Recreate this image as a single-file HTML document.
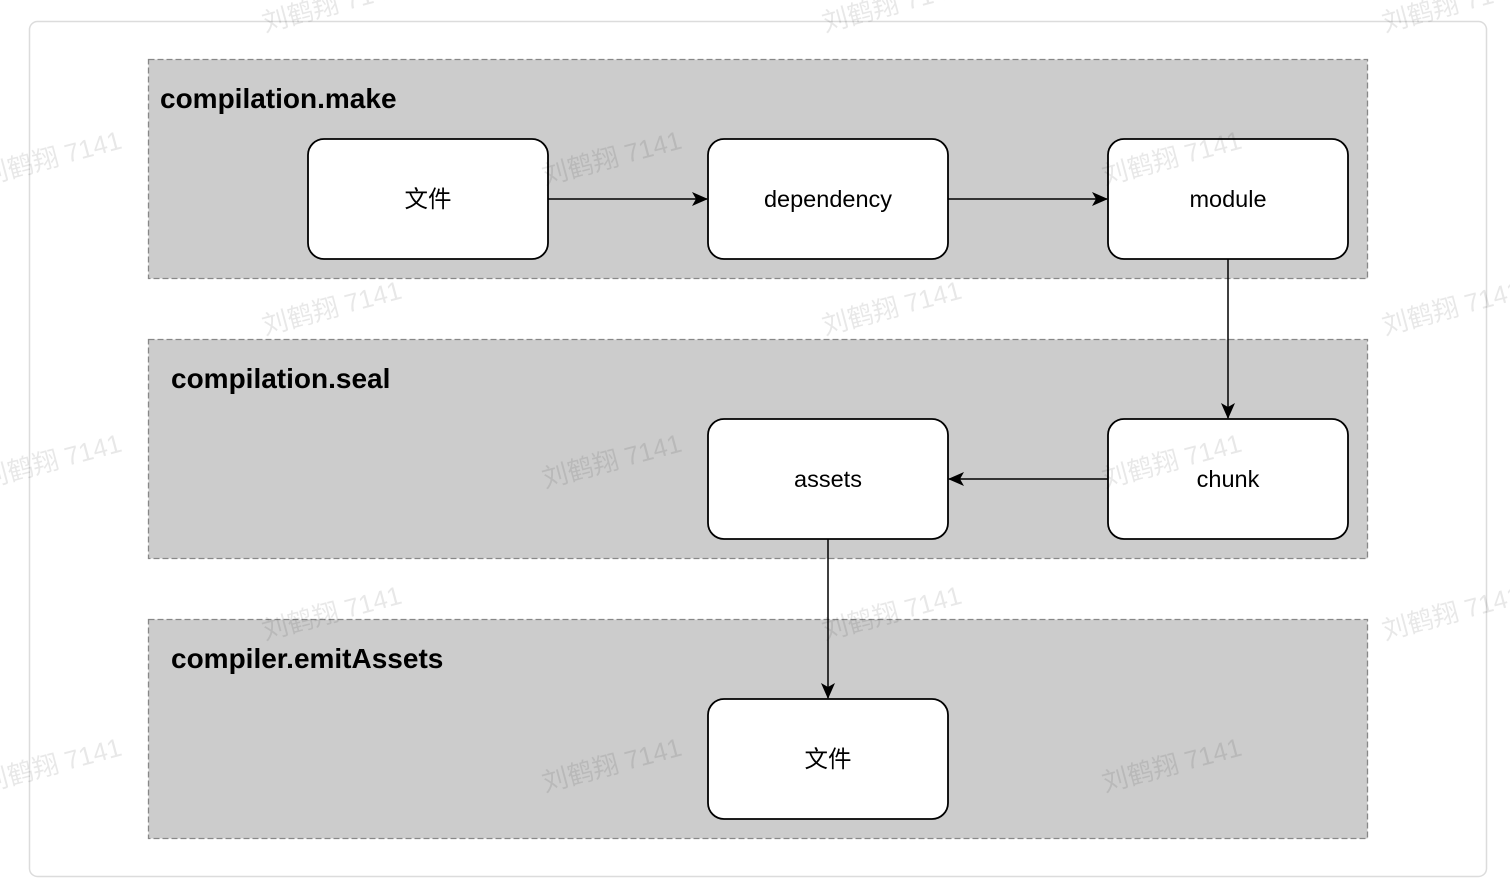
<!DOCTYPE html>
<html><head><meta charset="utf-8"><style>
html,body{margin:0;padding:0;background:#fff;width:1510px;height:886px;overflow:hidden}
svg{display:block}
.t{font-family:"Liberation Sans",Arial,sans-serif;font-weight:bold;font-size:28px;fill:#000}
.n{font-family:"Liberation Sans","Noto Sans CJK SC",sans-serif;font-size:23.5px;fill:#000}
.w{font-family:"Liberation Sans","Noto Sans CJK SC",sans-serif;font-size:26px;fill:rgba(0,0,0,0.09)}
</style></head><body>
<svg width="1510" height="886" viewBox="0 0 1510 886" xmlns="http://www.w3.org/2000/svg">
<defs><marker id="a" markerWidth="16" markerHeight="16" refX="15" refY="8" orient="auto" markerUnits="userSpaceOnUse"><path d="M0,1 L16,8 L0,15 L4,8 Z" fill="#000"/></marker></defs>
<rect x="29.5" y="21.5" width="1457" height="855" rx="8" fill="#fff" stroke="#dcdcdc" stroke-width="1.5"/>
<g fill="#cccccc" stroke="#888" stroke-width="1.3" stroke-dasharray="6,3">
<rect x="148.5" y="59.5" width="1219" height="219"/>
<rect x="148.5" y="339.5" width="1219" height="219"/>
<rect x="148.5" y="619.5" width="1219" height="219"/>
</g>
<text class="t" x="160" y="108">compilation.make</text>
<text class="t" x="171" y="388">compilation.seal</text>
<text class="t" x="171" y="668">compiler.emitAssets</text>
<g fill="none" stroke="#000" stroke-width="1.5">
<line x1="548" y1="199" x2="707" y2="199" marker-end="url(#a)"/>
<line x1="948" y1="199" x2="1107" y2="199" marker-end="url(#a)"/>
<line x1="1228" y1="259" x2="1228" y2="418" marker-end="url(#a)"/>
<line x1="1108" y1="479" x2="949" y2="479" marker-end="url(#a)"/>
<line x1="828" y1="539" x2="828" y2="698" marker-end="url(#a)"/>
</g>
<g fill="#fff" stroke="#000" stroke-width="1.8">
<rect x="308" y="139" width="240" height="120" rx="16"/>
<rect x="708" y="139" width="240" height="120" rx="16"/>
<rect x="1108" y="139" width="240" height="120" rx="16"/>
<rect x="708" y="419" width="240" height="120" rx="16"/>
<rect x="1108" y="419" width="240" height="120" rx="16"/>
<rect x="708" y="699" width="240" height="120" rx="16"/>
</g>
<g class="n" text-anchor="middle">
<text x="428" y="207">文件</text>
<text x="828" y="207">dependency</text>
<text x="1228" y="207">module</text>
<text x="828" y="487">assets</text>
<text x="1228" y="487">chunk</text>
<text x="828" y="767">文件</text>
</g>
<g class="w">
<text transform="translate(265,32) rotate(-15)">刘鹤翔 7141</text>
<text transform="translate(825,32) rotate(-15)">刘鹤翔 7141</text>
<text transform="translate(1385,32) rotate(-15)">刘鹤翔 7141</text>
<text transform="translate(-15,185) rotate(-15)">刘鹤翔 7141</text>
<text transform="translate(545,185) rotate(-15)">刘鹤翔 7141</text>
<text transform="translate(1105,185) rotate(-15)">刘鹤翔 7141</text>
<text transform="translate(265,335) rotate(-15)">刘鹤翔 7141</text>
<text transform="translate(825,335) rotate(-15)">刘鹤翔 7141</text>
<text transform="translate(1385,335) rotate(-15)">刘鹤翔 7141</text>
<text transform="translate(-15,488) rotate(-15)">刘鹤翔 7141</text>
<text transform="translate(545,488) rotate(-15)">刘鹤翔 7141</text>
<text transform="translate(1105,488) rotate(-15)">刘鹤翔 7141</text>
<text transform="translate(265,640) rotate(-15)">刘鹤翔 7141</text>
<text transform="translate(825,640) rotate(-15)">刘鹤翔 7141</text>
<text transform="translate(1385,640) rotate(-15)">刘鹤翔 7141</text>
<text transform="translate(-15,792) rotate(-15)">刘鹤翔 7141</text>
<text transform="translate(545,792) rotate(-15)">刘鹤翔 7141</text>
<text transform="translate(1105,792) rotate(-15)">刘鹤翔 7141</text>
</g>
</svg>
</body></html>
